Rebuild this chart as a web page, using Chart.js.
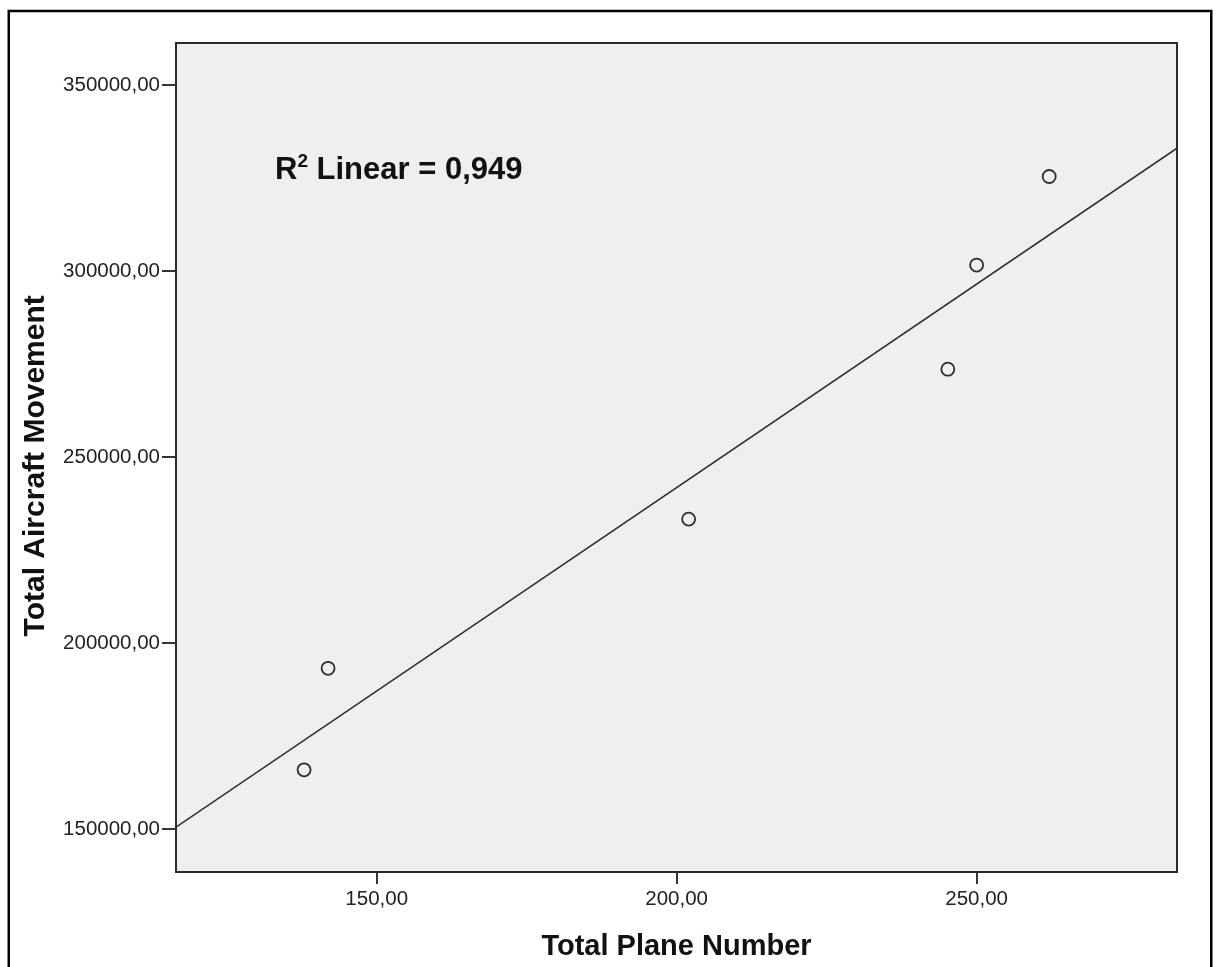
<!DOCTYPE html>
<html>
<head>
<meta charset="utf-8">
<script src="https://cdn.jsdelivr.net/npm/chart.js@4.4.0/dist/chart.umd.min.js"></script>
<style>
  html, body { margin: 0; padding: 0; background: #fff; }
  #wrap { width: 1216px; height: 967px; }
</style>
</head>
<body>
<div id="wrap"><canvas id="myChart" width="1216" height="967"></canvas></div>
<script>
// scatter values
const planeNumber = [137.9, 141.9, 202.0, 245.2, 250.0, 262.1];
const aircraftMovement = [165900, 193200, 233300, 273600, 301600, 325400];

// fit line ends (read at the plot edges)
const fitX = [116.55, 283.4];
const fitY = [150500, 333000];

const xTicks = [150, 200, 250];
const yTicks = [150000, 200000, 250000, 300000, 350000];
const xRange = [116.55, 283.4];
const yRange = [138440, 361290];

const rSquared = '0,949';

const FONT = "'Liberation Sans', Arial, Helvetica, sans-serif";

function commaFmt(v) {
    return Number(v).toFixed(2).replace('.', ',');
}

// frame, grey plot area, plot border and R2 label
const spssLook = {
    id: 'spssLook',
    beforeDraw(chart) {
        const ctx = chart.ctx;
        const a = chart.chartArea;
        ctx.save();
        ctx.fillStyle = '#fff';
        ctx.fillRect(0, 0, chart.width, chart.height);
        ctx.strokeStyle = '#000';
        ctx.lineWidth = 2.5;
        ctx.strokeRect(8.75, 11, 1202.5, 1000);
        ctx.fillStyle = '#efefef';
        ctx.fillRect(a.left, a.top, a.right - a.left, a.bottom - a.top);
        ctx.restore();
    },
    afterDraw(chart) {
        const ctx = chart.ctx;
        const a = chart.chartArea;
        ctx.save();
        ctx.strokeStyle = '#2b2b2b';
        ctx.lineWidth = 2;
        ctx.strokeRect(a.left, a.top, a.right - a.left, a.bottom - a.top);

        // R2 Linear label
        let x = a.left + 99;
        const y = a.top + 136;
        ctx.fillStyle = '#111';
        ctx.textBaseline = 'alphabetic';
        ctx.textAlign = 'left';
        ctx.font = 'bold 31px ' + FONT;
        ctx.fillText('R', x, y);
        x += ctx.measureText('R').width;
        ctx.font = 'bold 19px ' + FONT;
        ctx.fillText('2', x, y - 12);
        x += ctx.measureText('2').width;
        ctx.font = 'bold 31px ' + FONT;
        ctx.fillText(' Linear = ' + rSquared, x, y);
        ctx.restore();
    }
};

const data = {
    datasets: [{
        label: 'Fit',
        data: fitX.map((v, i) => ({x: v, y: fitY[i]})),
        showLine: true,
        borderColor: '#2e2e2e',
        borderWidth: 1.5,
        pointRadius: 0,
        fill: false
    }, {
        label: 'Observed',
        data: planeNumber.map((v, i) => ({x: v, y: aircraftMovement[i]})),
        pointStyle: 'circle',
        pointRadius: 6.5,
        pointBorderWidth: 1.8,
        borderColor: '#2e2e2e',
        backgroundColor: 'rgba(0,0,0,0)'
    }]
};

const config = {
    type: 'scatter',
    data,
    options: {
        responsive: false,
        animation: false,
        layout: { padding: { top: 43, right: 39, left: 0, bottom: 0 } },
        plugins: { legend: { display: false }, tooltip: { enabled: false } },
        scales: {
            x: {
                type: 'linear',
                min: xRange[0],
                max: xRange[1],
                afterBuildTicks: s => { s.ticks = xTicks.map(v => ({value: v})); },
                afterFit: s => { s.height = 95; },
                border: { display: false },
                grid: { drawOnChartArea: false, drawTicks: true, tickLength: 12, color: '#333', lineWidth: 2 },
                ticks: { padding: 3, color: '#222', font: { family: FONT, size: 20.5 }, callback: v => commaFmt(v), maxRotation: 0 },
                title: { display: true, text: 'Total Plane Number', color: '#111',
                    font: { family: FONT, size: 29, weight: 'bold', lineHeight: 1 }, padding: { top: 0, bottom: 6 } }
            },
            y: {
                type: 'linear',
                min: yRange[0],
                max: yRange[1],
                afterBuildTicks: s => { s.ticks = yTicks.map(v => ({value: v})); },
                afterFit: s => { s.width = 176; },
                border: { display: false },
                grid: { drawOnChartArea: false, drawTicks: true, tickLength: 14, color: '#333', lineWidth: 2 },
                ticks: { padding: 2, color: '#222', font: { family: FONT, size: 20.5 }, callback: v => commaFmt(v) },
                title: { display: true, text: 'Total Aircraft Movement  ', color: '#111',
                    font: { family: FONT, size: 30, weight: 'bold', lineHeight: 1 }, padding: { top: 21, bottom: 0 } }
            }
        }
    },
    plugins: [spssLook]
};

var myChart = new Chart(
    document.getElementById('myChart'),
    config
);
</script>
</body>
</html>
